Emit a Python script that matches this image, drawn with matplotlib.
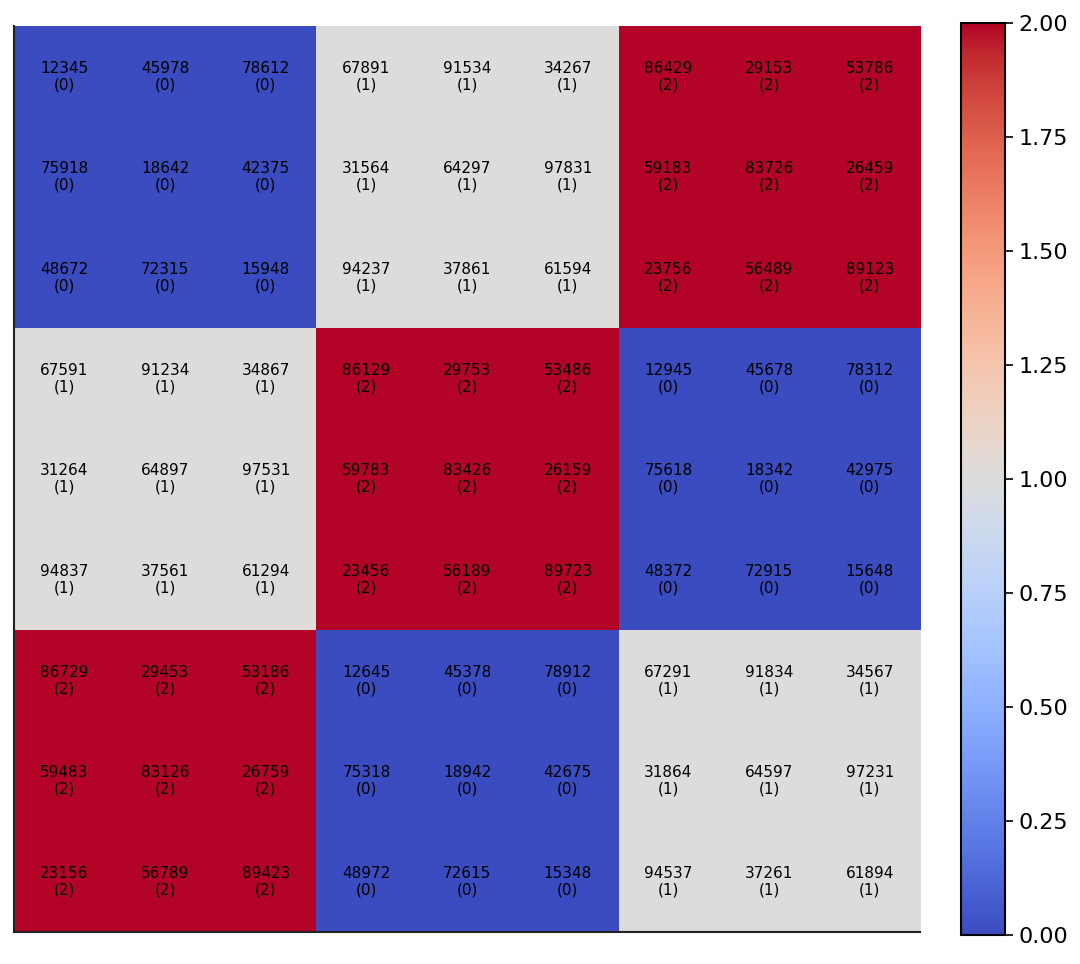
import numpy as np
import matplotlib
matplotlib.use('Agg')
import matplotlib.pyplot as plt

# cell numbers, row by row
ids = [
    [12345, 45978, 78612, 67891, 91534, 34267, 86429, 29153, 53786],
    [75918, 18642, 42375, 31564, 64297, 97831, 59183, 83726, 26459],
    [48672, 72315, 15948, 94237, 37861, 61594, 23756, 56489, 89123],
    [67591, 91234, 34867, 86129, 29753, 53486, 12945, 45678, 78312],
    [31264, 64897, 97531, 59783, 83426, 26159, 75618, 18342, 42975],
    [94837, 37561, 61294, 23456, 56189, 89723, 48372, 72915, 15648],
    [86729, 29453, 53186, 12645, 45378, 78912, 67291, 91834, 34567],
    [59483, 83126, 26759, 75318, 18942, 42675, 31864, 64597, 97231],
    [23156, 56789, 89423, 48972, 72615, 15348, 94537, 37261, 61894],
]
# class of each 3x3 block
block_class = [
    [0, 1, 2],
    [1, 2, 0],
    [2, 0, 1],
]
cbar_ticks = [0.0, 0.25, 0.5, 0.75, 1.0, 1.25, 1.5, 1.75, 2.0]

classes = np.kron(np.array(block_class), np.ones((3, 3), dtype=int))

fig = plt.figure(figsize=(10.8, 9.64), dpi=100)
ax = fig.add_axes([0.013, 0.0332, 0.839, 0.9398])
cax = fig.add_axes([0.890, 0.030, 0.041, 0.946])

im = ax.imshow(classes, cmap='coolwarm', vmin=0, vmax=2, aspect='auto',
               interpolation='nearest')

for i in range(9):
    for j in range(9):
        ax.text(j, i, f'{ids[i][j]}\n({classes[i, j]})', ha='center', va='center',
                fontsize=11, color='black', linespacing=1.12)

ax.set_xticks([])
ax.set_yticks([])
ax.spines['top'].set_visible(False)
ax.spines['right'].set_visible(False)
ax.spines['left'].set_linewidth(1.5)
ax.spines['bottom'].set_linewidth(1.5)
ax.spines['left'].set_color('#222222')
ax.spines['bottom'].set_color('#222222')

cb = fig.colorbar(im, cax=cax, ticks=cbar_ticks)
cb.ax.set_yticklabels([f'{t:.2f}' for t in cbar_ticks])
cb.ax.tick_params(labelsize=16, length=6, width=1.2)
cb.outline.set_linewidth(1.5)

fig.savefig('out.png', dpi=100)
